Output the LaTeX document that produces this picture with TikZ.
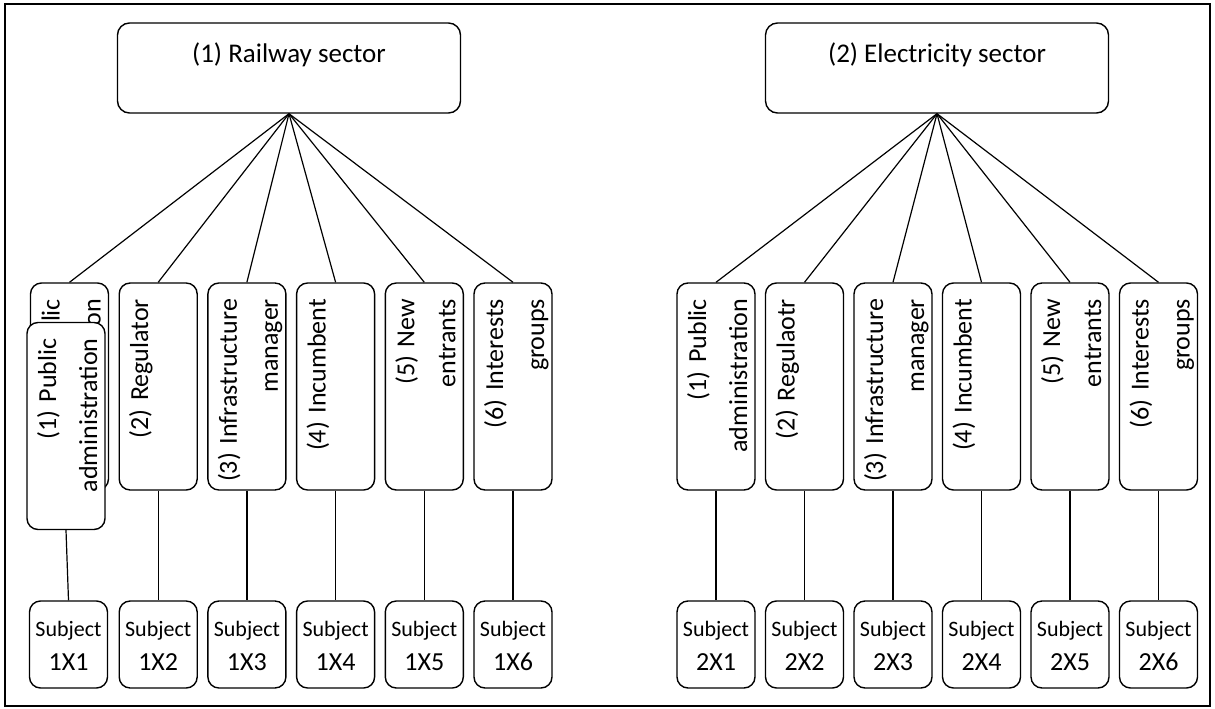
\documentclass[tikz,border=0pt]{standalone}
\usepackage{fontspec}
\setmainfont{Carlito}
\usepackage{tikz}
\tikzstyle{sector} = [rectangle, rounded corners=12pt, minimum width=343pt, minimum height=90pt, inner sep=0pt, text height=40pt, text depth=50pt, text centered, draw=black, line width=1.4pt, font=\fontsize{27}{36}\selectfont]
\tikzstyle{actor} = [rectangle, rounded corners=11pt, rotate=90, minimum width=207pt, minimum height=78pt, inner xsep=8pt, inner ysep=0pt, text width=191pt, text height=29pt, text depth=49pt, align=right, execute at begin node={\rightskip=8pt\relax}, draw=black, fill=white, line width=1.4pt, font=\fontsize{26}{41}\selectfont]
\tikzstyle{subject} = [rectangle, rounded corners=11pt, minimum width=78pt, minimum height=87pt, inner sep=0pt, text width=78pt, text height=35pt, text depth=52pt, align=center, draw=black, line width=1.4pt, font=\fontsize{22}{34}\selectfont]
\tikzstyle{link} = [line width=1.2pt]
\newcommand{\subjnum}[1]{{\fontsize{26}{34}\selectfont #1}}
\begin{document}
\begin{tikzpicture}[x=1pt, y=-1pt]
		\useasboundingbox (0,0) rectangle (1215,709);
		\draw [line width=1.2pt] (5,4) rectangle (1210,706);
		% sectors
		\node (rail) [sector] at (289,68) {(1) Railway sector};
		\node (elec) [sector] at (937,68) {(2) Electricity sector};
		% railway actors
		\node (ra1) [actor] at (69.5,386.5) {(1) Public\\administration};
		\node (ra1b) [actor] at (66,426) {(1) Public\\administration};
		\node (ra2) [actor] at (158.2,386.5) {(2) Regulator};
		\node (ra3) [actor] at (246.9,386.5) {(3) Infrastructure\\manager};
		\node (ra4) [actor] at (335.6,386.5) {(4) Incumbent};
		\node (ra5) [actor] at (424.3,386.5) {(5) New\\entrants};
		\node (ra6) [actor] at (513,386.5) {(6) Interests\\groups};
		% electricity actors
		\node (ea1) [actor] at (716,386.5) {(1) Public\\administration};
		\node (ea2) [actor] at (804.5,386.5) {(2) Regulaotr};
		\node (ea3) [actor] at (893,386.5) {(3) Infrastructure\\manager};
		\node (ea4) [actor] at (981.5,386.5) {(4) Incumbent};
		\node (ea5) [actor] at (1070,386.5) {(5) New\\entrants};
		\node (ea6) [actor] at (1158.5,386.5) {(6) Interests\\groups};
		% subjects
		\node (rs1) [subject] at (68.5,644.5) {Subject\\\subjnum{1X1}};
		\node (rs2) [subject] at (158.2,644.5) {Subject\\\subjnum{1X2}};
		\node (rs3) [subject] at (246.9,644.5) {Subject\\\subjnum{1X3}};
		\node (rs4) [subject] at (335.6,644.5) {Subject\\\subjnum{1X4}};
		\node (rs5) [subject] at (424.3,644.5) {Subject\\\subjnum{1X5}};
		\node (rs6) [subject] at (513,644.5) {Subject\\\subjnum{1X6}};
		\node (es1) [subject] at (716,644.5) {Subject\\\subjnum{2X1}};
		\node (es2) [subject] at (804.5,644.5) {Subject\\\subjnum{2X2}};
		\node (es3) [subject] at (893,644.5) {Subject\\\subjnum{2X3}};
		\node (es4) [subject] at (981.5,644.5) {Subject\\\subjnum{2X4}};
		\node (es5) [subject] at (1070,644.5) {Subject\\\subjnum{2X5}};
		\node (es6) [subject] at (1158.5,644.5) {Subject\\\subjnum{2X6}};
		% links
		\draw [link] (rail.south) -- (ra1.east);
		\draw [link] (rail.south) -- (ra2.east);
		\draw [link] (rail.south) -- (ra3.east);
		\draw [link] (rail.south) -- (ra4.east);
		\draw [link] (rail.south) -- (ra5.east);
		\draw [link] (rail.south) -- (ra6.east);
		\draw [link] (elec.south) -- (ea1.east);
		\draw [link] (elec.south) -- (ea2.east);
		\draw [link] (elec.south) -- (ea3.east);
		\draw [link] (elec.south) -- (ea4.east);
		\draw [link] (elec.south) -- (ea5.east);
		\draw [link] (elec.south) -- (ea6.east);
		\draw [link] (ra1b.west) -- (rs1.north);
		\draw [link] (ra2.west) -- (rs2.north);
		\draw [link] (ra3.west) -- (rs3.north);
		\draw [link] (ra4.west) -- (rs4.north);
		\draw [link] (ra5.west) -- (rs5.north);
		\draw [link] (ra6.west) -- (rs6.north);
		\draw [link] (ea1.west) -- (es1.north);
		\draw [link] (ea2.west) -- (es2.north);
		\draw [link] (ea3.west) -- (es3.north);
		\draw [link] (ea4.west) -- (es4.north);
		\draw [link] (ea5.west) -- (es5.north);
		\draw [link] (ea6.west) -- (es6.north);
		\end{tikzpicture}
\end{document}
